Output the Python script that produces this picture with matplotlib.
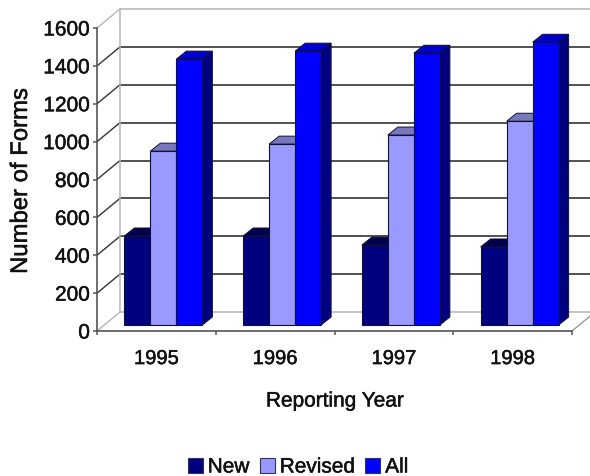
import matplotlib
matplotlib.use("Agg")
import matplotlib.pyplot as plt
import matplotlib.patheffects as pe
from matplotlib.patches import Polygon, Patch
from matplotlib.transforms import Affine2D

plt.rcParams['font.family'] = ['Liberation Sans', 'DejaVu Sans']

years = ['1995', '1996', '1997', '1998']
new = [470, 470, 422, 412]
revised = [918, 955, 1003, 1076]
all_forms = [1404, 1446, 1435, 1493]
y_ticks = [0, 200, 400, 600, 800, 1000, 1200, 1400, 1600]

series = [('New', new, '#000080', '#00004D', '#000060'),
          ('Revised', revised, '#9999FF', '#7878BC', '#6666AA'),
          ('All', all_forms, '#0000FF', '#0000CC', '#000080')]

W, H = 590, 477
fig = plt.figure(figsize=(W / 100, H / 100), dpi=100, facecolor='white')
ax = fig.add_axes([97 / W, 1 - 332 / H, 475 / W, 303 / H])
ax.set_xlim(-0.5, 3.5)
ax.set_ylim(0, 1600)
ax.patch.set_visible(False)
for s in ['top', 'right']:
    ax.spines[s].set_visible(False)
for s in ['left', 'bottom']:
    ax.spines[s].set_color('#555555')
    ax.spines[s].set_linewidth(1.2)


def off(dx, dy):
    return ax.transData + Affine2D().translate(dx, dy)


# 3-D depth offsets in pixels
WALL = (23, 19)
BAR_FRONT = (7, 6)
BAR_BACK = (17, 14)

x0, x1 = ax.get_xlim()
kw = dict(clip_on=False)
# back wall and floor
for v in y_ticks:
    light = v in (0, 1600)
    c = '#B5B5B5' if light else '#222222'
    ax.plot([x0, x1], [v, v], transform=off(*WALL), color=c, lw=1.1, zorder=1, **kw)
for v in y_ticks:
    light = v in (0, 1600)
    c = '#B5B5B5' if light else '#333333'
    p = ax.transData.transform([(x0, v)])[0]
    ax.add_line(plt.Line2D([p[0], p[0] + WALL[0]], [p[1], p[1] + WALL[1]],
                           transform=None, color=c, lw=1, zorder=1, clip_on=False))
ax.plot([x0, x0], [0, 1600], transform=off(*WALL), color='#B5B5B5', lw=1.1, zorder=1, **kw)
p = ax.transData.transform([(x1, 0)])[0]
ax.add_line(plt.Line2D([p[0], p[0] + WALL[0]], [p[1], p[1] + WALL[1]],
                       transform=None, color='#999999', lw=1, zorder=1, clip_on=False))

# bars
bw = 26 / 118.75
z = 3
for i in range(len(years)):
    for j, (name, vals, fc, topc, sidec) in enumerate(series):
        left = i + (j - 1.5) * bw
        right = left + bw
        v = vals[i]
        a = ax.transData.transform([(left, 0), (right, 0), (left, v), (right, v)])
        fx, fy = BAR_FRONT
        bx, by = BAR_BACK
        bl, br, tl, tr = a
        side = [(br[0] + fx, br[1] + fy), (br[0] + bx, br[1] + by),
                (tr[0] + bx, tr[1] + by), (tr[0] + fx, tr[1] + fy)]
        top = [(tl[0] + fx, tl[1] + fy), (tr[0] + fx, tr[1] + fy),
               (tr[0] + bx, tr[1] + by), (tl[0] + bx, tl[1] + by)]
        ax.add_patch(Polygon(side, closed=True, transform=None, fc=sidec, ec='#111133',
                             lw=0.7, zorder=z, clip_on=False))
        ax.add_patch(Polygon(top, closed=True, transform=None, fc=topc, ec='#111133',
                             lw=0.7, zorder=z, clip_on=False))
        ax.bar(left, v, width=bw, bottom=0, align='edge', color=fc, edgecolor='#111133',
               linewidth=0.8, transform=off(fx, fy), zorder=z + 1, clip_on=False)
        z += 2

ax.set_xlim(x0, x1)
ax.set_ylim(0, 1600)
ax.set_yticks(y_ticks)
ax.set_xticks([-0.5, 0.5, 1.5, 2.5, 3.5])
ax.set_xticklabels([])
ax.set_xticks(range(4), labels=years, minor=True)
ax.tick_params(axis='x', which='minor', length=0, labelsize=14.5, pad=13, labelcolor='#111111')
ax.tick_params(axis='x', which='major', length=3, width=1.1, color='#555555')
ax.tick_params(axis='y', length=3, width=1.1, color='#555555', labelsize=15, pad=2,
               labelcolor='#111111')

bold = [pe.withStroke(linewidth=0.35, foreground='#111111')]
texts = list(ax.get_xticklabels(minor=True)) + list(ax.get_yticklabels())
texts.append(fig.text(21 / W, 1 - 182 / H, 'Number of Forms', rotation=90, ha='center',
                      va='center', fontsize=17.2, color='#111111'))
texts.append(fig.text(335 / W, 1 - 402 / H, 'Reporting Year', ha='center', va='center',
                      fontsize=15, color='#111111'))

handles = [Patch(fc=s[2], ec='#333355', lw=0.8, label=s[0]) for s in series]
leg = fig.legend(handles=handles, loc='center', bbox_to_anchor=(298 / W, 1 - 468 / H), ncol=3,
                 frameon=False, fontsize=15, handlelength=0.72, handleheight=0.72,
                 handletextpad=0.24, columnspacing=0.48, labelcolor='#111111',
                 borderpad=0, borderaxespad=0)
texts += list(leg.get_texts())
for t in texts:
    t.set_path_effects(bold)

fig.savefig('out.png', dpi=100, facecolor='white')
